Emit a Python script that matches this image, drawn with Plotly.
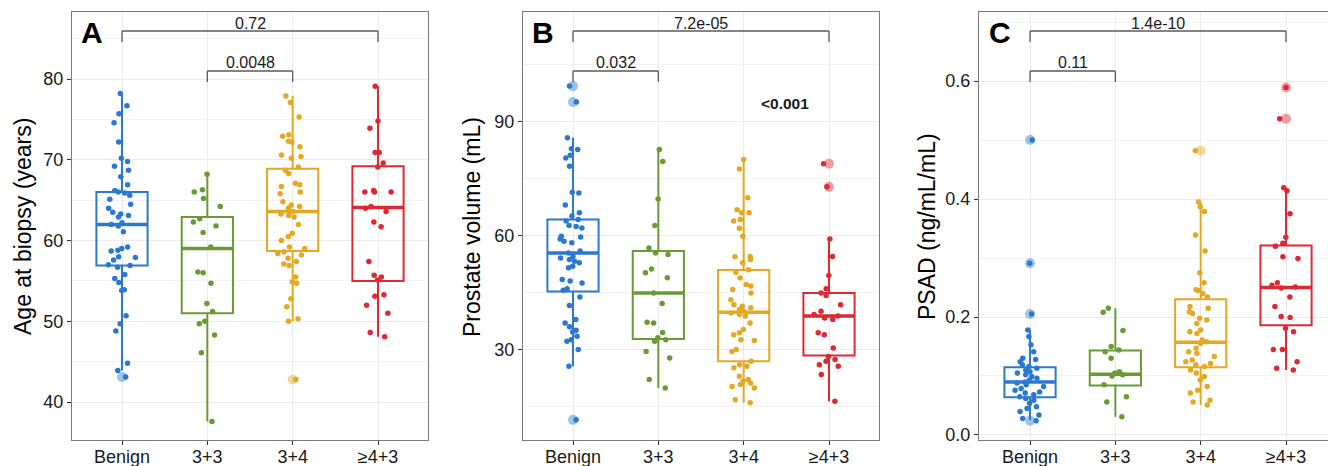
import plotly.graph_objects as go

W, H = 1328, 466
FONT = "Liberation Sans, Arial, Helvetica, sans-serif"

categories = ["Benign", "3+3", "3+4", "≥4+3"]
colors = ["#2b79cf", "#6a9a35", "#e4a823", "#dc2a33"]
outlier_colors = ["rgba(43,121,207,0.45)", "rgba(106,154,53,0.45)",
                  "rgba(228,168,35,0.45)", "rgba(220,42,51,0.45)"]

# ---------------- Panel A: Age at biopsy (years) ----------------
age_benign = [78.2, 76.7, 75.7, 74.6, 72.2, 70.2, 69.8, 69.2, 68.7, 67.9, 66.9, 66.2,
              66.0, 65.9, 65.6, 65.1, 64.5, 64.0, 63.5, 63.3, 63.1, 62.9, 62.2, 62.0,
              61.8, 61.1, 59.2, 59.0, 58.8, 58.7, 58.0, 57.9, 57.6, 57.0, 56.9, 56.7,
              55.8, 55.3, 54.8, 53.9, 53.8, 50.7, 49.7, 48.8, 44.8, 43.9, 43.1]
age_33 = [68.2, 66.3, 66.0, 65.2, 64.2, 62.7, 62.3, 61.8, 61.0, 59.2, 56.1, 56.0,
          54.7, 52.2, 51.2, 50.0, 49.7, 48.3, 46.1, 37.6]
age_34 = [77.9, 77.1, 75.3, 73.1, 72.9, 72.3, 72.2, 71.6, 70.6, 70.4, 70.2, 69.1,
          68.7, 68.3, 67.1, 66.9, 66.7, 66.0, 65.8, 64.8, 64.4, 64.2, 64.0, 63.6,
          63.3, 63.1, 62.9, 62.0, 60.9, 60.5, 60.0, 59.2, 59.0, 58.6, 58.4, 58.2,
          57.8, 57.4, 57.1, 56.9, 55.5, 54.9, 54.7, 52.8, 51.8, 50.3, 50.0, 42.8]
age_43 = [79.1, 74.8, 73.9, 70.9, 70.9, 69.6, 69.1, 66.2, 66.0, 66.0, 66.0, 64.2,
          64.0, 63.6, 62.3, 61.7, 57.4, 55.7, 55.5, 55.1, 53.3, 53.1, 52.0, 51.0,
          48.6, 48.1]
age_q1 = [56.9, 51.0, 58.7, 55.0]
age_median = [62.0, 59.0, 63.6, 64.1]
age_q3 = [66.0, 62.9, 68.9, 69.2]
age_low = [43.9, 37.6, 50.0, 48.1]
age_high = [78.2, 68.2, 77.9, 79.1]

# ---------------- Panel B: Prostate volume (mL) ----------------
vol_benign = [99.4, 95.2, 85.8, 82.9, 82.7, 81.2, 80.5, 78.3, 71.5, 71.3, 68.1, 66.1,
              65.2, 64.3, 63.9, 62.7, 62.5, 62.1, 59.9, 59.7, 59.2, 58.6, 58.2, 56.0,
              55.5, 54.6, 54.2, 53.8, 53.3, 52.9, 52.0, 51.6, 48.5, 48.1, 47.6, 46.1,
              45.7, 43.9, 41.7, 38.0, 37.1, 36.1, 35.2, 34.7, 33.6, 32.7, 32.3, 30.1,
              25.7, 11.6]
vol_33 = [82.7, 79.6, 69.7, 62.7, 56.8, 55.5, 55.1, 51.3, 50.3, 49.0, 45.0, 42.2,
          37.3, 37.1, 34.6, 33.2, 32.7, 32.3, 29.6, 27.9, 22.2, 20.0]
vol_34 = [80.1, 77.6, 70.0, 66.9, 66.1, 66.1, 64.3, 63.9, 62.0, 59.9, 54.6, 54.5,
          53.8, 52.9, 51.1, 50.4, 48.9, 47.2, 46.8, 45.9, 45.0, 43.2, 41.9, 41.5,
          41.1, 40.6, 40.2, 39.7, 39.3, 38.9, 37.1, 35.4, 34.5, 34.0, 32.7, 32.5,
          30.1, 29.6, 27.0, 26.1, 25.7, 25.3, 23.1, 22.2, 21.8, 21.3, 20.9, 20.4,
          20.0, 16.9, 16.1]
vol_43 = [79.0, 72.9, 59.2, 54.6, 49.6, 46.1, 45.0, 44.3, 41.9, 40.2, 39.3, 38.9,
          38.4, 38.0, 34.5, 34.0, 30.5, 28.3, 27.5, 27.0, 26.1, 25.7, 23.5, 16.5]
vol_q1 = [45.4, 32.9, 27.0, 28.5]
vol_median = [55.5, 45.0, 39.9, 38.9]
vol_q3 = [64.3, 56.0, 51.0, 45.0]
vol_low = [25.7, 20.0, 16.1, 16.5]
vol_high = [85.8, 82.7, 80.1, 59.2]

# ---------------- Panel C: PSAD (ng/mL/mL) ----------------
psad_benign = [0.500, 0.291, 0.205, 0.178, 0.167, 0.153, 0.141, 0.130, 0.128, 0.124,
               0.119, 0.116, 0.113, 0.110, 0.107, 0.105, 0.102, 0.099, 0.096, 0.093,
               0.090, 0.088, 0.085, 0.082, 0.079, 0.076, 0.073, 0.071, 0.068, 0.065,
               0.062, 0.059, 0.054, 0.048, 0.045, 0.040, 0.034, 0.028, 0.024]
psad_33 = [0.215, 0.208, 0.177, 0.150, 0.144, 0.141, 0.130, 0.107, 0.105, 0.102,
           0.100, 0.085, 0.065, 0.056, 0.031]
psad_34 = [0.482, 0.395, 0.387, 0.379, 0.339, 0.312, 0.275, 0.258, 0.246, 0.245,
           0.240, 0.234, 0.218, 0.215, 0.209, 0.206, 0.198, 0.195, 0.189, 0.178,
           0.175, 0.172, 0.161, 0.158, 0.155, 0.147, 0.141, 0.138, 0.133, 0.127,
           0.124, 0.121, 0.119, 0.116, 0.110, 0.105, 0.099, 0.093, 0.082, 0.076,
           0.071, 0.059, 0.056, 0.051]
psad_43 = [0.589, 0.536, 0.419, 0.414, 0.375, 0.335, 0.325, 0.320, 0.302, 0.299,
           0.258, 0.254, 0.251, 0.249, 0.234, 0.218, 0.201, 0.199, 0.181, 0.175,
           0.145, 0.145, 0.124, 0.113, 0.110]
psad_q1 = [0.064, 0.084, 0.115, 0.186]
psad_median = [0.090, 0.103, 0.157, 0.250]
psad_q3 = [0.115, 0.143, 0.230, 0.321]
psad_low = [0.025, 0.031, 0.051, 0.110]
psad_high = [0.178, 0.215, 0.395, 0.419]

panel_letters = ["A", "B", "C"]
y_titles = ["Age at biopsy (years)", "Prostate volume (mL)", "PSAD (ng/mL/mL)"]
comparisons = [
    [("Benign", "≥4+3", "0.72"), ("3+3", "3+4", "0.0048")],
    [("Benign", "≥4+3", "7.2e-05"), ("Benign", "3+3", "0.032")],
    [("Benign", "≥4+3", "1.4e-10"), ("Benign", "3+3", "0.11")],
]

panels = [
    dict(groups=[age_benign, age_33, age_34, age_43], q1=age_q1, med=age_median,
         q3=age_q3, lo=age_low, hi=age_high,
         yrange=[35.3, 88.3], ticks=[40, 50, 60, 70, 80], dtick=10),
    dict(groups=[vol_benign, vol_33, vol_34, vol_43], q1=vol_q1, med=vol_median,
         q3=vol_q3, lo=vol_low, hi=vol_high,
         yrange=[6.3, 118.9], ticks=[30, 60, 90], dtick=30),
    dict(groups=[psad_benign, psad_33, psad_34, psad_43], q1=psad_q1, med=psad_median,
         q3=psad_q3, lo=psad_low, hi=psad_high,
         yrange=[-0.0085, 0.717], ticks=[0.0, 0.2, 0.4, 0.6], dtick=0.2),
]

# layout geometry (pixels)
x_domains_px = [(72, 428), (523, 879), (979, 1328)]
x_ranges = [[-0.586, 3.586], [-0.586, 3.586], [-0.598, 3.492]]
plot_top, plot_bottom = 12, 440
ytitle_x_px = [23, 472, 927]
letter_x_px = [79, 530, 987]
BOX_W = 0.6

def px_x(p):
    return p / W

def px_y(p):
    return 1 - p / H

fig = go.Figure()
shapes = []
annotations = []

for pi, panel in enumerate(panels):
    xa = "x" if pi == 0 else f"x{pi + 1}"
    ya = "y" if pi == 0 else f"y{pi + 1}"
    for ci, cat in enumerate(categories):
        vals = panel["groups"][ci]
        # box from summary statistics
        fig.add_trace(go.Box(
            x=[cat], q1=[panel["q1"][ci]], median=[panel["med"][ci]],
            q3=[panel["q3"][ci]], lowerfence=[panel["lo"][ci]],
            upperfence=[panel["hi"][ci]],
            width=BOX_W, whiskerwidth=0, fillcolor="rgba(255,255,255,0)",
            line=dict(color=colors[ci], width=2), boxpoints=False,
            xaxis=xa, yaxis=ya, showlegend=False, hoverinfo="skip"))
        # thicker median bar (ggplot style)
        shapes.append(dict(type="line", xref=xa, yref=ya,
                           x0=ci - BOX_W / 2, x1=ci + BOX_W / 2,
                           y0=panel["med"][ci], y1=panel["med"][ci],
                           line=dict(color=colors[ci], width=3.5), layer="above"))
        # outliers (beyond whiskers), drawn large and translucent at box centre
        outs = [v for v in vals if v < panel["lo"][ci] or v > panel["hi"][ci]]
        if outs:
            fig.add_trace(go.Scatter(
                x=[cat] * len(outs), y=outs, mode="markers",
                marker=dict(size=10, color=outlier_colors[ci]),
                xaxis=xa, yaxis=ya, showlegend=False, hoverinfo="skip"))
        # jittered points
        fig.add_trace(go.Box(
            x=[cat] * len(vals), y=vals, width=BOX_W, boxpoints="all", jitter=0.6,
            pointpos=0, fillcolor="rgba(0,0,0,0)",
            line=dict(color="rgba(0,0,0,0)", width=0),
            marker=dict(size=5.5, color=colors[ci]),
            xaxis=xa, yaxis=ya, showlegend=False))

    x0, x1 = x_domains_px[pi]
    axis_common = dict(showline=True, linecolor="#7a7a7a", linewidth=1.3,
                       ticks="outside", ticklen=4, tickwidth=1.2, tickcolor="#333333",
                       tickfont=dict(size=18, color="#1a1a1a", family=FONT),
                       showgrid=True, gridcolor="#ebebeb", gridwidth=1,
                       zeroline=False, fixedrange=True, automargin=False)
    fig.layout[("xaxis" if pi == 0 else f"xaxis{pi + 1}")] = dict(
        axis_common, domain=[px_x(x0), min(1.0, px_x(x1))], anchor=ya,
        type="category", categoryorder="array", categoryarray=categories,
        range=x_ranges[pi], mirror=True, ticklabelstandoff=-4)
    fig.layout[("yaxis" if pi == 0 else f"yaxis{pi + 1}")] = dict(
        axis_common, domain=[px_y(plot_bottom), px_y(plot_top)], anchor=xa,
        range=panel["yrange"], tickvals=panel["ticks"],
        ticktext=[("%g" % t) if pi < 2 else ("%.1f" % t) for t in panel["ticks"]],
        mirror=(pi < 2),
        minor=dict(dtick=panel["dtick"] / 2, tick0=0, showgrid=True,
                   gridcolor="#f3f3f3", gridwidth=1, ticks=""))

    # significance brackets
    levels = [(31, 42, 23), (71, 82, 62)]
    for li, (ga, gb, label) in enumerate(comparisons[pi]):
        ia, ib = categories.index(ga), categories.index(gb)
        top, foot, lab = levels[li]
        for (xs0, ys0, xs1, ys1) in [(ia, foot, ia, top), (ia, top, ib, top), (ib, top, ib, foot)]:
            shapes.append(dict(type="line", xref=xa, yref="paper",
                               x0=xs0, x1=xs1, y0=px_y(ys0), y1=px_y(ys1),
                               line=dict(color="#5a5a5a", width=1.3)))
        annotations.append(dict(text=label, xref=xa, yref="paper",
                                x=(ia + ib) / 2, y=px_y(lab), showarrow=False,
                                xanchor="center", yanchor="middle",
                                font=dict(size=16, color="#1a1a1a", family=FONT)))

    # panel letter
    annotations.append(dict(text=f"<b>{panel_letters[pi]}</b>", xref="paper", yref="paper",
                            x=px_x(letter_x_px[pi]), y=px_y(33), showarrow=False,
                            xanchor="left", yanchor="middle",
                            font=dict(size=30, color="#000000", family=FONT)))
    # y-axis title
    annotations.append(dict(text=y_titles[pi], xref="paper", yref="paper",
                            x=px_x(ytitle_x_px[pi]), y=px_y(227), showarrow=False,
                            textangle=-90, xanchor="center", yanchor="middle",
                            font=dict(size=23, color="#000000", family=FONT)))

# overall p-value text in panel B
annotations.append(dict(text="<b>&lt;0.001</b>", xref="x2", yref="y2", x=2.49, y=94.7,
                        showarrow=False, xanchor="center", yanchor="middle",
                        font=dict(size=15.5, color="#1a1a1a", family=FONT)))

fig.update_layout(width=W, height=H, margin=dict(l=0, r=0, t=0, b=0, autoexpand=False),
                  paper_bgcolor="white", plot_bgcolor="white",
                  boxmode="overlay", shapes=shapes, annotations=annotations,
                  font=dict(family=FONT), showlegend=False)

fig.write_html(
    "out.html",
    config={"displayModeBar": False},
    post_script="document.body.style.margin='0px';document.body.style.overflow='hidden';",
)
